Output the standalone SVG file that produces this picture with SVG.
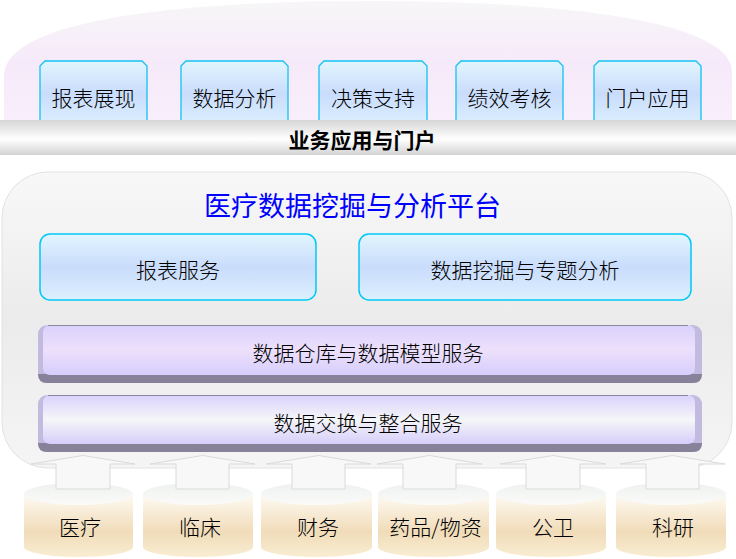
<svg xmlns="http://www.w3.org/2000/svg" width="736" height="559" viewBox="0 0 736 559">
<defs>
<linearGradient id="gArc" x1="0" y1="0" x2="0" y2="1">
<stop offset="0" stop-color="#f7f6f7"/><stop offset="0.5" stop-color="#f6eafa"/><stop offset="1" stop-color="#f9eefb"/>
</linearGradient>
<linearGradient id="gBlue" x1="0" y1="0" x2="0" y2="1">
<stop offset="0" stop-color="#e2f6fe"/><stop offset="0.5" stop-color="#c9dcfc"/><stop offset="1" stop-color="#dcf0fe"/>
</linearGradient>
<linearGradient id="gBar" x1="0" y1="0" x2="0" y2="1">
<stop offset="0" stop-color="#d6d6d6"/><stop offset="0.55" stop-color="#ffffff"/><stop offset="1" stop-color="#d2d2d2"/>
</linearGradient>
<linearGradient id="gPanel" x1="0" y1="0" x2="0" y2="1">
<stop offset="0" stop-color="#f8f8f8"/><stop offset="0.5" stop-color="#ebebeb"/><stop offset="1" stop-color="#f5f5f5"/>
</linearGradient>
<linearGradient id="gFace1" x1="0" y1="0" x2="0" y2="1">
<stop offset="0" stop-color="#dad2fc"/><stop offset="0.5" stop-color="#ede0fc"/><stop offset="1" stop-color="#d6cefc"/>
</linearGradient>
<linearGradient id="gFace2" x1="0" y1="0" x2="0" y2="1">
<stop offset="0" stop-color="#dad2fc"/><stop offset="0.5" stop-color="#f5f6f8"/><stop offset="1" stop-color="#d6cefa"/>
</linearGradient>
<linearGradient id="gCylBody" x1="0" y1="0" x2="0" y2="1">
<stop offset="0" stop-color="#fdfaf4"/><stop offset="0.25" stop-color="#f9eedb"/><stop offset="0.6" stop-color="#f1dcb9"/><stop offset="1" stop-color="#f9edd2"/>
</linearGradient>
<linearGradient id="gCylTop" x1="0" y1="0" x2="0" y2="1">
<stop offset="0" stop-color="#eef1f1"/><stop offset="1" stop-color="#fbfbf8"/>
</linearGradient>
<style>
text{font-family:"Noto Sans CJK SC","Noto Sans",sans-serif;text-anchor:middle;dominant-baseline:central;fill:#000;}
.lbl{font-size:21px;font-weight:300;}
.bold{font-size:21px;font-weight:bold;}
.title{font-size:27px;fill:#0000ff;}
.topbox{fill:url(#gBlue);stroke:#12c2f2;stroke-width:1.3;}
.svc{fill:url(#gBlue);stroke:#00c8f8;stroke-width:1.5;}
.bevel{fill:#c2badf;}
.shadow{fill:#878199;}
.arrow{fill:#f8f8f8;stroke:#dadada;stroke-width:1;}
.cylbody{fill:url(#gCylBody);}
.cyltop{fill:url(#gCylTop);}
</style>
</defs>
<rect width="736" height="559" fill="#ffffff"/>

<g id="portal-area">
<path d="M4,122 L4,76 C4,18 190,1 368,1 C546,1 732,18 732,72 L732,122 Z" fill="url(#gArc)"/>
</g>

<g id="node-report-view"><path class="topbox" d="M40,66 L45,61 L142,61 L147,66 L147,126 L40,126 Z"/><text class="lbl" x="93.5" y="96.5">报表展现</text></g>
<g id="node-data-analysis"><path class="topbox" d="M181,66 L186,61 L283,61 L288,66 L288,126 L181,126 Z"/><text class="lbl" x="234.5" y="96.5">数据分析</text></g>
<g id="node-decision"><path class="topbox" d="M319,66 L324,61 L422,61 L427,66 L427,126 L319,126 Z"/><text class="lbl" x="373" y="96.5">决策支持</text></g>
<g id="node-performance"><path class="topbox" d="M456,66 L461,61 L558,61 L563,66 L563,126 L456,126 Z"/><text class="lbl" x="509.5" y="96.5">绩效考核</text></g>
<g id="node-portal-app"><path class="topbox" d="M594,66 L599,61 L696,61 L701,66 L701,126 L594,126 Z"/><text class="lbl" x="647.5" y="96.5">门户应用</text></g>

<g id="node-business-bar">
<rect x="0" y="120" width="736" height="35" fill="url(#gBar)"/>
<text class="bold" x="362" y="139">业务应用与门户</text>
</g>

<g id="node-platform">
<rect x="2" y="172" width="730" height="296" rx="46" ry="46" fill="url(#gPanel)" stroke="#e2e2e2" stroke-width="1"/>
<text class="title" x="352.5" y="204.5">医疗数据挖掘与分析平台</text>
</g>

<g id="node-report-service"><rect class="svc" x="40" y="234" width="276" height="66" rx="10" ry="10"/><text class="lbl" x="178" y="268.5">报表服务</text></g>
<g id="node-mining"><rect class="svc" x="359" y="234" width="332" height="66" rx="10" ry="10"/><text class="lbl" x="525" y="268.5">数据挖掘与专题分析</text></g>

<g id="node-warehouse">
<rect class="bevel" x="38" y="325" width="664" height="58" rx="9" ry="9"/>
<path class="shadow" d="M38,374 L702,374 Q702,383 693,383 L47,383 Q38,383 38,374 Z"/>
<rect class="bevel" x="694" y="332" width="8" height="40"/>
<rect x="43" y="325" width="652" height="50" rx="7" ry="7" fill="url(#gFace1)"/>
<line x1="48" y1="325.5" x2="688" y2="325.5" stroke="#8a86a0" stroke-width="1"/>
<text class="lbl" x="368" y="351.5">数据仓库与数据模型服务</text>
</g>

<g id="node-exchange">
<rect class="bevel" x="38" y="395" width="664" height="57" rx="9" ry="9"/>
<path class="shadow" d="M38,443 L702,443 Q702,452 693,452 L47,452 Q38,452 38,443 Z"/>
<rect class="bevel" x="694" y="402" width="8" height="40"/>
<rect x="43" y="395" width="652" height="49" rx="7" ry="7" fill="url(#gFace2)"/>
<line x1="48" y1="395.5" x2="688" y2="395.5" stroke="#8a86a0" stroke-width="1"/>
<text class="lbl" x="368" y="421.5">数据交换与整合服务</text>
</g>

<g id="node-src-medical"><path class="cylbody" d="M24,494 L24,547 A54.5,10 0 0 0 133,547 L133,494 Z"/><ellipse class="cyltop" cx="78.5" cy="494" rx="54.5" ry="11"/><text class="lbl" x="80" y="525.5">医疗</text></g>
<g id="node-src-clinical"><path class="cylbody" d="M143,494 L143,547 A55,10 0 0 0 253,547 L253,494 Z"/><ellipse class="cyltop" cx="198" cy="494" rx="55" ry="11"/><text class="lbl" x="200" y="525.5">临床</text></g>
<g id="node-src-finance"><path class="cylbody" d="M261,494 L261,547 A55.5,10 0 0 0 372,547 L372,494 Z"/><ellipse class="cyltop" cx="316.5" cy="494" rx="55.5" ry="11"/><text class="lbl" x="318" y="525.5">财务</text></g>
<g id="node-src-drug"><path class="cylbody" d="M378,494 L378,547 A55.5,10 0 0 0 489,547 L489,494 Z"/><ellipse class="cyltop" cx="433.5" cy="494" rx="55.5" ry="11"/><text class="lbl" x="435.5" y="525.5">药品/物资</text></g>
<g id="node-src-public"><path class="cylbody" d="M496,494 L496,547 A55,10 0 0 0 606,547 L606,494 Z"/><ellipse class="cyltop" cx="551" cy="494" rx="55" ry="11"/><text class="lbl" x="553" y="525.5">公卫</text></g>
<g id="node-src-research"><path class="cylbody" d="M616,494 L616,547 A55,10 0 0 0 726,547 L726,494 Z"/><ellipse class="cyltop" cx="671" cy="494" rx="55" ry="11"/><text class="lbl" x="673" y="525.5">科研</text></g>

<g id="connectors">
<path class="arrow" d="M56,489 L56,464 L31,464 L83,455.5 L135,464 L110,464 L110,489 Z"/>
<path class="arrow" d="M176,489 L176,464 L150,464 L202.5,455.5 L255,464 L229,464 L229,489 Z"/>
<path class="arrow" d="M292,489 L292,464 L266,464 L318.5,455.5 L371,464 L345,464 L345,489 Z"/>
<path class="arrow" d="M403,489 L403,464 L377,464 L429.5,455.5 L482,464 L456,464 L456,489 Z"/>
<path class="arrow" d="M526,489 L526,464 L500,464 L553,455.5 L606,464 L580,464 L580,489 Z"/>
<path class="arrow" d="M646,489 L646,464 L620,464 L672.5,455.5 L725,464 L699,464 L699,489 Z"/>
</g>
</svg>
